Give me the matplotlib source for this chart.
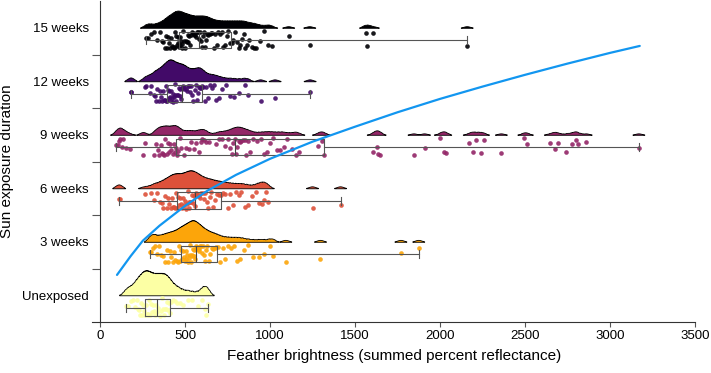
import numpy as np
import matplotlib
matplotlib.use("Agg")
import matplotlib.pyplot as plt

plt.rcParams['font.family'] = ['Liberation Sans', 'DejaVu Sans']

# ---------------- data ----------------
groups = ["Unexposed", "3 weeks", "6 weeks", "9 weeks", "12 weeks", "15 weeks"]
colors = ["#FCFFA4", "#FCA50A", "#DD513A", "#932667", "#420A68", "#000004"]

unexposed = [150, 165, 180, 195, 205, 215, 222, 229, 236, 242, 248, 254, 260, 265,
             270, 275, 280, 285, 290, 296, 302, 308, 314, 320, 326, 332, 338, 344,
             350, 356, 362, 368, 374, 380, 386, 392, 398, 405, 412, 420, 430, 442,
             455, 470, 490, 515, 540, 575, 600, 615, 625, 637]

weeks3 = [296, 300, 310, 322, 335, 348, 360, 372, 383, 393, 402, 411, 420, 428, 436,
          444, 451, 458, 465, 471, 477, 483, 488, 493, 498, 503, 508, 513, 518, 523,
          527, 531, 535, 539, 543, 547, 551, 555, 559, 563, 567, 571, 575, 580, 585,
          590, 595, 600, 606, 612, 618, 625, 632, 640, 648, 656, 665, 675, 685, 695,
          708, 722, 738, 755, 772, 790, 808, 825, 845, 870, 900, 935, 965, 1000, 1020,
          1093, 1297, 1770, 1875]

weeks6 = [110, 116, 262, 300, 318, 335, 350, 362, 373, 383, 392, 400, 408, 415, 422,
          428, 434, 440, 446, 452, 458, 464, 470, 476, 482, 488, 494, 500, 506, 511,
          516, 521, 526, 531, 536, 541, 546, 551, 556, 561, 566, 572, 578, 584, 590,
          597, 604, 612, 620, 628, 637, 646, 655, 665, 675, 686, 698, 710, 722, 735,
          750, 765, 780, 798, 815, 832, 850, 870, 895, 920, 935, 950, 962, 975, 990,
          1250, 1415]

weeks9 = [97, 105, 112, 120, 128, 138, 150, 175, 250, 262,
          320, 330, 340, 348, 356, 364, 371, 378, 385, 392, 399, 406, 413, 420, 428,
          436, 444, 448, 452, 460, 468, 478,
          495, 508, 522, 536, 550, 565, 580, 595, 600, 610, 625, 640,
          680, 700, 718, 735, 750, 762, 774, 785,
          792, 800, 808, 816, 824, 832, 840, 850, 860, 872, 885, 900,
          925, 945, 965, 985, 1000, 1020, 1040, 1060, 1080, 1100, 1130, 1150, 1170,
          1285, 1304, 1320,
          1607, 1627, 1636, 1648, 1847, 1909, 2002, 2026, 2034,
          2172, 2197, 2211, 2240, 2256, 2361, 2493, 2514,
          2649, 2679, 2694, 2743, 2778, 2801, 2811, 2860, 3170]

weeks12 = [181, 185, 262, 270, 292, 300, 315, 322, 330, 338, 345, 352, 358, 364, 370,
           376, 381, 386, 391, 395, 399, 403, 407, 411, 415, 419, 423, 427, 431, 435,
           439, 443, 448, 453, 458, 463, 468, 473, 478, 483, 487, 492, 497, 503, 509,
           515, 521, 528, 535, 542, 549, 556, 563, 570, 576, 582, 588, 594, 600, 606,
           615, 625, 636, 648, 660, 672, 685, 700, 718, 740, 765, 790, 820, 850, 872,
           945, 1030, 1236]

weeks15 = [273, 280, 300, 320, 335, 350, 362, 372, 381, 389, 396, 402, 408, 414, 419,
           424, 429, 434, 439, 444, 448, 452, 456, 460, 464, 468, 472, 476, 480, 485,
           490, 495, 500, 505, 510, 515, 520, 525, 530, 536, 542, 548, 554, 560, 566,
           572, 578, 584, 590, 596, 602, 608, 614, 620, 626, 632, 638, 645, 652, 660,
           668, 677, 686, 695, 705, 715, 725, 735, 745, 755, 765, 775, 785, 795, 805,
           815, 825, 835, 845, 855, 865, 878, 892, 906, 920, 940, 965, 990, 1010, 1110,
           1234, 1562, 1572, 1608, 2160]

series = [unexposed, weeks3, weeks6, weeks9, weeks12, weeks15]

# fitted curve (x, y in category units)
curve_x = [100, 180, 252, 350, 504, 630, 800, 1000, 1250, 1500, 1750, 2000, 2250,
           2500, 2750, 3000, 3175]
curve_y = [0.88, 1.23, 1.52, 1.80, 2.18, 2.45, 2.75, 3.05, 3.37, 3.65, 3.92, 4.17,
           4.40, 4.62, 4.83, 5.03, 5.16]

xticks = [0, 500, 1000, 1500, 2000, 2500, 3000, 3500]

# ---------------- figure ----------------
W, H = 711, 373
LEFT_PX, RIGHT_PX, BOTTOM_PX, TOP_PX = 92.35, 695.0, 322.0, 1.0
fig = plt.figure(figsize=(W / 100, H / 100), dpi=100)
ax = fig.add_axes([LEFT_PX / W, (H - BOTTOM_PX) / H, (RIGHT_PX - LEFT_PX) / W,
                   (BOTTOM_PX - TOP_PX) / H])
ax.set_xlim(-45, 3500)
ax.set_ylim(0, 6)

bw = 20.0
cut = 1.8


def kde(vals, grid):
    v = np.asarray(vals, float)[:, None]
    u = (grid[None, :] - v) / bw
    k = np.exp(-0.5 * u ** 2) * (np.abs(u) < cut)
    return k.sum(0) / (len(vals) * bw * np.sqrt(2 * np.pi))


def jitter(n):
    k = np.arange(1, n + 1, dtype=float)
    return np.mod(np.sin(k * 12.9898 + 3.1) * 43758.5453, 1.0)


grids = [np.arange(min(s) - 60, max(s) + 60, 1.0) for s in series]
dens = [kde(s, g) for s, g in zip(series, grids)]
K = 0.47 / dens[0].max()

for i, (vals, col, g, d) in enumerate(zip(series, colors, grids, dens)):
    base = i + 0.49
    h = d * K
    mask = h > 1e-9
    idx = np.where(mask)[0]
    if len(idx):
        splits = np.where(np.diff(idx) > 1)[0]
        starts = np.r_[idx[0], idx[splits + 1]]
        ends = np.r_[idx[splits], idx[-1]]
        for s0, e0 in zip(starts, ends):
            xs = g[s0:e0 + 1]
            ys = base + h[s0:e0 + 1]
            px = np.r_[xs[0], xs, xs[-1]]
            py = np.r_[base, ys, base]
            ax.fill(px, py, facecolor=col, edgecolor="black", linewidth=0.6,
                    zorder=2)
    # jittered points
    n = len(vals)
    py = base - 0.04 - jitter(n) * 0.33
    ax.scatter(vals, py, s=11, color=col, alpha=0.9, linewidths=0, zorder=3)
    # box
    ax.boxplot([vals], positions=[base - 0.22], vert=False, widths=0.31,
               whis=(0, 100), showfliers=False, manage_ticks=False,
               patch_artist=False,
               boxprops=dict(color="#555555", linewidth=0.8),
               whiskerprops=dict(color="#555555", linewidth=0.8),
               capprops=dict(color="#555555", linewidth=0.8),
               medianprops=dict(color="#444444", linewidth=0.8),
               capwidths=0.15, zorder=4)

ax.plot(curve_x, curve_y, color="#1296F0", linewidth=1.6, zorder=5,
        solid_capstyle="round")

# axes styling
for sp in ["top", "right"]:
    ax.spines[sp].set_visible(False)
ax.spines["left"].set_position(("data", 0))
for sp in ["left", "bottom"]:
    ax.spines[sp].set_color("#333333")
    ax.spines[sp].set_linewidth(0.8)

ax.set_xticks(xticks)
ax.set_xticklabels([str(t) for t in xticks], fontsize=9.5)
ax.tick_params(axis="x", length=3.5, width=0.8, color="#555555", pad=2.5)

ax.set_yticks([1, 2, 3, 4, 5])
ax.set_yticklabels([])
ax.tick_params(axis="y", which="major", length=6, width=0.8, color="#555555")
ax.set_yticks([i + 0.5 for i in range(6)], minor=True)
ax.set_yticklabels(groups, minor=True, fontsize=9.5)
ax.tick_params(axis="y", which="minor", length=0, pad=8)

ax.set_xlabel("Feather brightness (summed percent reflectance)", fontsize=11,
              labelpad=5)
ax.set_ylabel("Sun exposure duration", fontsize=11)
ax.yaxis.set_label_coords((14.5 - LEFT_PX) / (RIGHT_PX - LEFT_PX), 0.5)

fig.savefig("out.png", dpi=100)
